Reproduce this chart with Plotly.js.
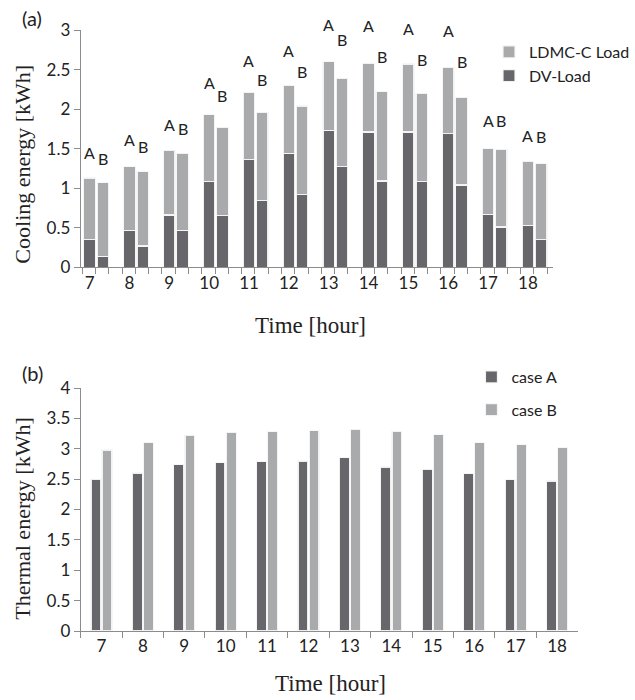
<!DOCTYPE html>
<html>
<head>
<meta charset="utf-8">
<script src="https://cdn.plot.ly/plotly-3.0.1.min.js"></script>
<style>
  html, body { margin: 0; padding: 0; background: #ffffff; }
  #chart { width: 635px; height: 700px; }
</style>
</head>
<body>
<div id="chart"></div>
<script>
// ---------- data ----------
const hours = [7, 8, 9, 10, 11, 12, 13, 14, 15, 16, 17, 18];

// (a) cooling energy [kWh], stacked: DV-Load (bottom) + LDMC-C Load (top)
const dvA   = [0.35, 0.47, 0.66, 1.08, 1.36, 1.44, 1.73, 1.71, 1.71, 1.69, 0.67, 0.53];
const ldmcA = [0.78, 0.80, 0.82, 0.85, 0.85, 0.86, 0.87, 0.87, 0.86, 0.84, 0.83, 0.81];
const dvB   = [0.14, 0.27, 0.47, 0.65, 0.84, 0.92, 1.27, 1.09, 1.08, 1.04, 0.51, 0.35];
const ldmcB = [0.93, 0.94, 0.97, 1.12, 1.12, 1.12, 1.12, 1.13, 1.12, 1.11, 0.98, 0.96];

// (b) thermal energy [kWh]
const caseA = [2.50, 2.60, 2.74, 2.77, 2.79, 2.80, 2.85, 2.70, 2.66, 2.59, 2.49, 2.47];
const caseB = [2.98, 3.10, 3.22, 3.27, 3.28, 3.30, 3.32, 3.29, 3.23, 3.10, 3.07, 3.02];

// heights (in kWh) of the hand-placed "A"/"B" labels above the bars in (a)
const labelYA = [1.45, 1.61, 1.81, 2.34, 2.61, 2.74, 3.07, 3.06, 3.02, 2.99, 1.85, 1.66];
const labelYB = [1.37, 1.53, 1.75, 2.17, 2.38, 2.47, 2.88, 2.67, 2.63, 2.60, 1.85, 1.65];

// ---------- styling ----------
const DARK = '#67676b';
const LIGHT = '#a9aaac';
const AXIS = '#8c8c8c';
const TXT = '#222222';
const SANS = 'Lato, "Open Sans", sans-serif';
const SERIF = '"Liberation Serif", "DejaVu Serif", serif';

// slot layout for (a): A bar at slot 3i, B bar at 3i+1, empty slot 3i+2
const posA = hours.map((h, i) => 3 * i);
const posB = hours.map((h, i) => 3 * i + 1);
const xStack = posA.concat(posB);

const barLine = { color: 'rgba(245,245,245,0.95)', width: 1.2 };

const traces = [
  {
    type: 'bar', name: 'DV-Load', legend: 'legend', legendgroup: 'dv', legendrank: 2,
    x: xStack, y: dvA.concat(dvB), width: 0.86,
    marker: { color: DARK, line: barLine },
    xaxis: 'x', yaxis: 'y', hoverinfo: 'y'
  },
  {
    type: 'bar', name: 'LDMC-C Load', legend: 'legend', legendgroup: 'ldmc', legendrank: 1,
    x: xStack, y: ldmcA.concat(ldmcB), width: 0.86,
    marker: { color: LIGHT, line: barLine },
    xaxis: 'x', yaxis: 'y', hoverinfo: 'y'
  },
  {
    type: 'bar', name: 'case A', legend: 'legend2', legendgroup: 'ca', legendrank: 1,
    x: hours.map(String), y: caseA,
    marker: { color: DARK, line: barLine },
    xaxis: 'x2', yaxis: 'y2', offsetgroup: 'a'
  },
  {
    type: 'bar', name: 'case B', legend: 'legend2', legendgroup: 'cb', legendrank: 2,
    x: hours.map(String), y: caseB,
    marker: { color: LIGHT, line: barLine },
    xaxis: 'x2', yaxis: 'y2', offsetgroup: 'b'
  }
];

function px(x) { return x / 635; }
function py(y) { return 1 - y / 700; }

const Y_TOP = 3;                       // top of the (a) axis range
const PX_PER_KWH = (267.3 - 30) / 3;   // pixel scale of the (a) axis

const annotations = [];
function addLetter(letter, x, yVal) {
  const anchorY = Math.min(yVal, Y_TOP);
  annotations.push({
    xref: 'x', yref: 'y', x: x, y: anchorY,
    yshift: (yVal - anchorY) * PX_PER_KWH,
    xanchor: 'center', yanchor: 'middle',
    text: letter, showarrow: false,
    font: { family: SANS, size: 16, color: TXT }
  });
}
hours.forEach((h, i) => {
  addLetter('A', posA[i], labelYA[i]);
  addLetter('B', posB[i], labelYB[i]);
});

function paperText(text, x, y, size, family, angle) {
  annotations.push({
    xref: 'paper', yref: 'paper', x: px(x), y: py(y),
    xanchor: 'center', yanchor: 'middle',
    text: text, showarrow: false, textangle: angle || 0,
    font: { family: family, size: size, color: TXT }
  });
}
paperText('(a)', 33, 18, 20, SANS);
paperText('(b)', 33, 373, 20, SANS);
paperText('Cooling energy [kWh]', 22, 164, 22, SERIF, -90);
paperText('Thermal energy [kWh]', 22, 519, 22, SERIF, -90);
paperText('Time [hour]', 315, 325, 23, SERIF);
paperText('Time [hour]', 336, 683, 23, SERIF);

const tickFont = { family: SANS, size: 17, color: TXT };

const layout = {
  width: 635, height: 700,
  margin: { l: 0, r: 0, t: 0, b: 0 },
  paper_bgcolor: '#ffffff', plot_bgcolor: '#ffffff',
  barmode: 'stack',
  bargap: 0.46, bargroupgap: 0.12,
  showlegend: true,
  font: { family: SANS, color: TXT },
  xaxis: {
    domain: [px(82), px(562)], anchor: 'y',
    range: [-0.67, 34.9],
    tickmode: 'array', tickvals: posA, ticktext: hours.map(String),
    ticks: '', showgrid: false, zeroline: false,
    showline: true, linecolor: AXIS, linewidth: 1,
    minor: { ticks: 'outside', tick0: 0.45, dtick: 1, ticklen: 6, tickcolor: AXIS, showgrid: false },
    tickfont: tickFont, fixedrange: true
  },
  yaxis: {
    domain: [py(267.3), py(30)], anchor: 'x',
    range: [0, Y_TOP], dtick: 0.5, tick0: 0,
    ticks: 'outside', ticklen: 6, tickcolor: AXIS,
    showgrid: false, zeroline: false,
    showline: true, linecolor: AXIS, linewidth: 1,
    tickfont: tickFont, fixedrange: true
  },
  xaxis2: {
    domain: [px(82), px(587)], anchor: 'y2',
    type: 'category',
    ticks: 'outside', tickson: 'boundaries', ticklen: 6, tickcolor: AXIS,
    showgrid: false, zeroline: false,
    showline: true, linecolor: AXIS, linewidth: 1,
    tickfont: tickFont, fixedrange: true
  },
  yaxis2: {
    domain: [py(631), py(388)], anchor: 'x2',
    range: [0, 4], dtick: 0.5, tick0: 0,
    ticks: 'outside', ticklen: 6, tickcolor: AXIS,
    showgrid: false, zeroline: false,
    showline: true, linecolor: AXIS, linewidth: 1,
    tickfont: tickFont, fixedrange: true
  },
  legend: {
    x: px(497), y: py(35), xanchor: 'left', yanchor: 'top',
    traceorder: 'grouped', tracegroupgap: 0,
    bgcolor: 'rgba(0,0,0,0)', borderwidth: 0,
    font: { family: SANS, size: 16, color: TXT }
  },
  legend2: {
    x: px(479), y: py(360), xanchor: 'left', yanchor: 'top',
    traceorder: 'grouped', tracegroupgap: 9,
    bgcolor: 'rgba(0,0,0,0)', borderwidth: 0,
    font: { family: SANS, size: 16, color: TXT }
  },
  annotations: annotations
};

Plotly.newPlot('chart', traces, layout, { displayModeBar: false, staticPlot: true });
</script>
</body>
</html>
